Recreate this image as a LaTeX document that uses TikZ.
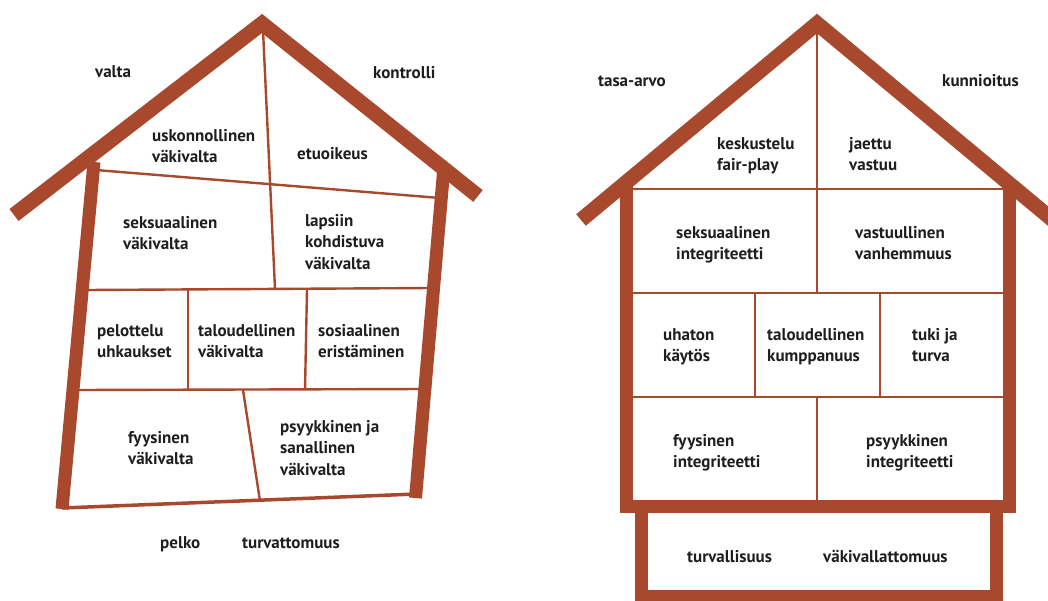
\documentclass[tikz,border=0pt]{standalone}
\usepackage{fontspec}
\setmainfont{PT Sans}
\definecolor{housec}{RGB}{168,72,45}
\definecolor{txtc}{RGB}{30,30,30}
\begin{document}
\begin{tikzpicture}[x=1pt,y=-1pt,
  thick wall/.style={draw=housec,line width=13pt,line cap=butt,line join=miter},
  roofline/.style={draw=housec,line width=15pt,line cap=butt,line join=miter},
  thinline/.style={draw=housec,line width=2.4pt},
  baseline/.style={draw=housec,line width=3.5pt},
  lab/.style={anchor=north west,inner sep=0pt,align=left,text=txtc,
    font=\fontsize{17}{21.5}\selectfont\bfseries,execute at begin node=\strut}]
\useasboundingbox (0,0) rectangle (1048,600);
\clip (0,0) rectangle (1048,600);
% ---------- left house ----------
\draw[thinline] (263,30) -- (275,289);
\draw[thinline] (96,170) -- (440,198);
\draw[thinline] (86,290) -- (430,288);
\draw[thinline] (188,290) -- (188,390);
\draw[thinline] (307,290) -- (305,390);
\draw[thinline] (76,390) -- (422,389);
\draw[thinline] (243,390) -- (260,501);
\draw[baseline] (62,508) -- (416,494);
\draw[roofline] (14,215) -- (262,23.5) -- (478,196);
\draw[thick wall] (94,162) -- (62,509);
\draw[thick wall] (443.5,172) -- (415.5,498);
% ---------- right house ----------
\draw[thinline] (626,189) -- (1009,189);
\draw[thinline] (817,25) -- (817,293);
\draw[thinline] (626,293) -- (1009,293);
\draw[thinline] (755,293) -- (755,397);
\draw[thinline] (880,293) -- (880,397);
\draw[thinline] (626,397) -- (1009,397);
\draw[thinline] (817,397) -- (817,506);
\draw[roofline] (581,220) -- (817,23.5) -- (1060,226);
\draw[thick wall] (626,186) -- (626,506.5) -- (1009,506.5) -- (1009,186);
\draw[thick wall] (641,506) -- (641,596) -- (996,596) -- (996,506);
% ---------- left labels ----------
\node[lab] (valta) at (95,62) {valta};
\node[lab] (kontrolli) at (373,63) {kontrolli};
\node[lab] (uskonn) at (152,129) {uskonnollinen\\väkivalta};
\node[lab] (etuoik) at (297,144) {etuoikeus};
\node[lab] (seks) at (123,216) {seksuaalinen\\väkivalta};
\node[lab] (lapsiin) at (305,214) {lapsiin\\kohdistuva\\väkivalta};
\node[lab] (pelot) at (97,324) {pelottelu\\uhkaukset};
\node[lab] (talous) at (198,324) {taloudellinen\\väkivalta};
\node[lab] (sosiaal) at (318,324) {sosiaalinen\\eristäminen};
\node[lab] (fyys) at (128,431) {fyysinen\\väkivalta};
\node[lab] (psyyk) at (280,420) {psyykkinen ja\\sanallinen\\väkivalta};
\node[lab] (pelko) at (160,533) {pelko};
\node[lab] (turvatt) at (242,533) {turvattomuus};
% ---------- right labels ----------
\node[lab] (tasa) at (598,71) {tasa-arvo};
\node[lab] (kunn) at (942,71) {kunnioitus};
\node[lab] (kesk) at (717,137) {keskustelu\\fair-play};
\node[lab] (jaettu) at (849,137) {jaettu\\vastuu};
\node[lab] (seksint) at (676,226) {seksuaalinen\\integriteetti};
\node[lab] (vastuul) at (855,226) {vastuullinen\\vanhemmuus};
\node[lab] (uhaton) at (663,328) {uhaton\\käytös};
\node[lab] (talkump) at (767,328) {taloudellinen\\kumppanuus};
\node[lab] (tuki) at (912,328) {tuki ja\\turva};
\node[lab] (fyysint) at (673,434) {fyysinen\\integriteetti};
\node[lab] (psyykint) at (866,434) {psyykkinen\\integriteetti};
\node[lab] (turvall) at (687,547) {turvallisuus};
\node[lab] (vakival) at (823,547) {väkivallattomuus};
\end{tikzpicture}
\end{document}
